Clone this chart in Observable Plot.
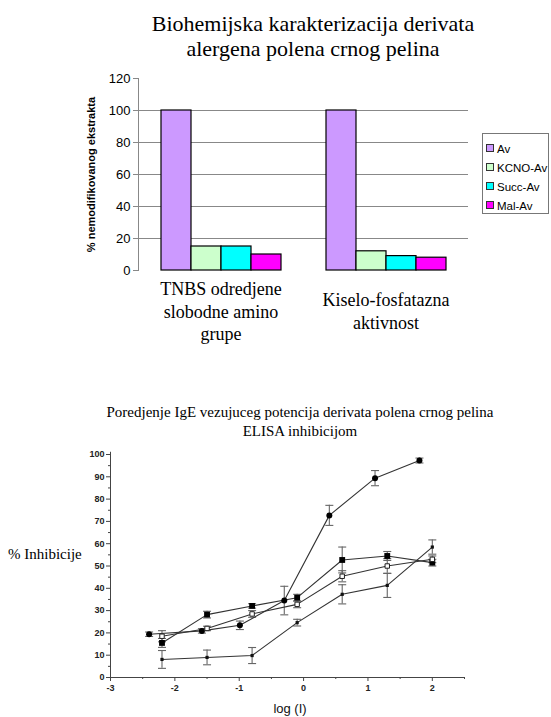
<!DOCTYPE html>
<html><head><meta charset="utf-8">
<script src="https://cdn.jsdelivr.net/npm/d3@7"></script>
<script src="https://cdn.jsdelivr.net/npm/@observablehq/plot@0.6"></script>
<style>
body{margin:0;background:#fff;}
#wrap{position:relative;width:551px;height:717px;overflow:hidden;font-family:"Liberation Sans",Arial,sans-serif;background:#fff;}
.abs{position:absolute;}
.serif{font-family:"Liberation Serif","Times New Roman",serif;color:#000;}
#topchart [aria-label="y-axis label"]{font-size:11px;font-weight:bold;}
#topchart [aria-label="fx-axis tick label"], #topchart [aria-label="fx-axis tick label"] text{font-family:"Liberation Serif","Times New Roman",serif;font-size:18px;}
#legend{position:absolute;left:482px;top:133px;width:67px;height:81px;border:1px solid #777;box-sizing:border-box;font-size:11.5px;color:#000;}
#legend .it{position:absolute;left:3px;height:14px;line-height:14px;white-space:nowrap;}
#legend .sw{display:inline-block;width:6px;height:6px;border:1px solid #333;margin-right:3px;vertical-align:1px;}
</style></head><body><div id="wrap"></div>
<script>
// ---------- Top chart data ----------
const categories = ["TNBS odredjene\nslobodne amino\ngrupe", "Kiselo-fosfatazna\naktivnost"];
const series = ["Av", "KCNO-Av", "Succ-Av", "Mal-Av"];
const seriesColors = ["#CC99FF", "#CCFFCC", "#00FFFF", "#FF00FF"];
const valuesTNBS = [100, 15, 15, 10];
const valuesKF = [100, 12, 9, 8];
const yTicksTop = [0, 20, 40, 60, 80, 100, 120];
const gridTop = [20, 40, 60, 80, 100];

// ---------- Bottom chart data ----------
const logI_circle = [-2.4, -1.58, -0.99, -0.3, 0.4, 1.11, 1.8];
const inh_circle = [19.4, 20.9, 23.4, 34.5, 72.7, 89.4, 97.3];
const err_circle = [1, 1, 1.9, 6.4, 4.5, 3.4, 1.1];
const logI = [-2.2, -1.5, -0.8, -0.1, 0.6, 1.3, 2.0];
const inh_square = [15.5, 28.2, 32.1, 35.8, 52.7, 54.5, 51.5];
const err_square = [2, 1.5, 1, 1.5, 5.8, 2, 1.5];
const inh_open = [18.5, 22, 28.5, 32.8, 45.4, 50.0, 53];
const err_open = [2.5, 1, 1.5, 1.5, 2.5, 3.3, 1.5];
const inh_star = [8.1, 9.0, 9.85, 24.6, 37.3, 41.3, 58.5];
const err_star = [4, 3.3, 3.6, 1.5, 4.3, 5.4, 3.2];
const yTicksBottom = [0, 10, 20, 30, 40, 50, 60, 70, 80, 90, 100];
const yMinorBottom = [5, 15, 25, 35, 45, 55, 65, 75, 85, 95];
const xTicksBottom = [-3, -2, -1, 0, 1, 2];
const xMinorBottom = [-2.5, -1.5, -0.5, 0.5, 1.5, 2.5];

const wrap = document.getElementById("wrap");
function addDiv(html, css, cls) {
  const d = document.createElement("div");
  d.className = "abs " + (cls || "");
  d.innerHTML = html;
  Object.assign(d.style, css);
  wrap.appendChild(d);
  return d;
}

// Titles
addDiv("Biohemijska karakterizacija derivata<br>alergena polena crnog pelina",
  {left: "63px", top: "11px", width: "500px", textAlign: "center", fontSize: "22px", lineHeight: "25px"}, "serif");

// ---------- Top chart ----------
const barData = [];
series.forEach((s, i) => {
  barData.push({cat: categories[0], s, v: valuesTNBS[i]});
  barData.push({cat: categories[1], s, v: valuesKF[i]});
});

const topPlot = Plot.plot({
  width: 551, height: 350,
  marginTop: 78, marginBottom: 80, marginLeft: 138, marginRight: 83,
  style: {fontFamily: "Liberation Sans, Arial, sans-serif", fontSize: "13px", color: "#000", background: "transparent", overflow: "visible"},
  fx: {domain: categories, padding: 0, label: null},
  x: {domain: series, paddingInner: 0, paddingOuter: 0.75, axis: null},
  y: {domain: [0, 120], label: null},
  color: {domain: series, range: seriesColors},
  marks: [
    Plot.ruleY(gridTop, {stroke: "#888", strokeWidth: 1}),
    Plot.frame({anchor: "left", facetAnchor: "left", stroke: "#888"}),
    Plot.axisY({ticks: yTicksTop, tickSize: 5, tickPadding: 3, stroke: "#888", tickFormat: d => String(d),
      label: "% nemodifikovanog ekstrakta", labelAnchor: "center", labelOffset: 51, labelArrow: false}),
    Plot.axisFx({anchor: "bottom", tickSize: 0, tickPadding: 40, lineAnchor: "middle", fontSize: 18,
      fontFamily: "Liberation Serif, Times New Roman, serif", lineHeight: 1.25, label: null}),
    Plot.barY(barData, {fx: "cat", x: "s", y: "v", fill: "s", stroke: "#000", strokeWidth: 1.2})
  ]
});
const topDiv = addDiv("", {left: "0px", top: "0px"});
topDiv.id = "topchart";
topDiv.appendChild(topPlot);

// Legend
const leg = document.createElement("div");
leg.id = "legend";
series.forEach((s, i) => {
  const it = document.createElement("div");
  it.className = "it";
  it.style.top = (8 + i * 19) + "px";
  it.innerHTML = `<span class="sw" style="background:${seriesColors[i]}"></span>${s}`;
  leg.appendChild(it);
});
wrap.appendChild(leg);

// ---------- Bottom chart ----------
addDiv("Poredjenje IgE vezujuceg potencija derivata polena crnog pelina<br>ELISA inhibicijom",
  {left: "50px", top: "403px", width: "500px", textAlign: "center", fontSize: "15px", lineHeight: "19px"}, "serif");
addDiv("% Inhibicije", {left: "8px", top: "544px", fontSize: "15px", lineHeight: "20px"}, "serif");
addDiv("log (I)", {left: "240px", width: "100px", textAlign: "center", top: "701px", fontSize: "13px", lineHeight: "16px", color: "#111"});

const rows = [];
function pushSeries(name, xs, ys, es) {
  xs.forEach((x, i) => rows.push({series: name, x, y: ys[i], e: es[i]}));
}
pushSeries("circle", logI_circle, inh_circle, err_circle);
pushSeries("square", logI, inh_square, err_square);
pushSeries("open", logI, inh_open, err_open);
pushSeries("star", logI, inh_star, err_star);
const bySeries = s => rows.filter(d => d.series === s);

const capSymbol = {
  draw(ctx, size) {
    const w = Math.sqrt(size / Math.PI);
    ctx.moveTo(-w, 0);
    ctx.lineTo(w, 0);
  }
};

const botPlot = Plot.plot({
  width: 551, height: 277,
  marginTop: 14, marginBottom: 40, marginLeft: 110, marginRight: 87,
  style: {fontFamily: "Liberation Sans, Arial, sans-serif", fontSize: "9px", color: "#222", background: "transparent", overflow: "visible"},
  x: {domain: [-3, 2.5], label: null},
  y: {domain: [0, 100], label: null},
  marks: [
    Plot.ruleX([-3], {y1: 0, y2: 101, stroke: "#444"}),
    Plot.ruleY([0], {x1: -3, x2: 2.5, stroke: "#444"}),
    Plot.axisY({ticks: yTicksBottom, tickSize: 4, tickPadding: 2, tickFormat: d => String(d), fontWeight: "bold", stroke: "#444", label: null}),
    Plot.axisY({ticks: yMinorBottom, tickSize: 2, tickFormat: () => "", stroke: "#444", label: null}),
    Plot.axisX({ticks: xTicksBottom, tickSize: 4, tickPadding: 3, tickFormat: d => String(d), fontWeight: "bold", stroke: "#444", label: null}),
    Plot.axisX({ticks: xMinorBottom, tickSize: 2, tickFormat: () => "", stroke: "#444", label: null}),
    Plot.ruleX(rows, {x: "x", y1: d => d.y - d.e, y2: d => d.y + d.e, stroke: "#666", strokeWidth: 1.1}),
    Plot.dot(rows, {x: "x", y: d => d.y + d.e, symbol: capSymbol, r: 4, stroke: "#666", strokeWidth: 1.1}),
    Plot.dot(rows, {x: "x", y: d => d.y - d.e, symbol: capSymbol, r: 4, stroke: "#666", strokeWidth: 1.1}),
    Plot.line(rows, {x: "x", y: "y", z: "series", stroke: "#333", strokeWidth: 1.1}),
    Plot.dot(bySeries("circle"), {x: "x", y: "y", symbol: "circle", r: 3, fill: "#000"}),
    Plot.dot(bySeries("square"), {x: "x", y: "y", symbol: "square", r: 3.3, fill: "#000"}),
    Plot.dot(bySeries("open"), {x: "x", y: "y", symbol: "square", r: 2.5, fill: "#fff", stroke: "#222", strokeWidth: 1}),
    Plot.dot(bySeries("star"), {x: "x", y: "y", symbol: "square", r: 1.8, fill: "#111"})
  ]
});
addDiv("", {left: "0px", top: "440px"}).appendChild(botPlot);
</script>
</body></html>
